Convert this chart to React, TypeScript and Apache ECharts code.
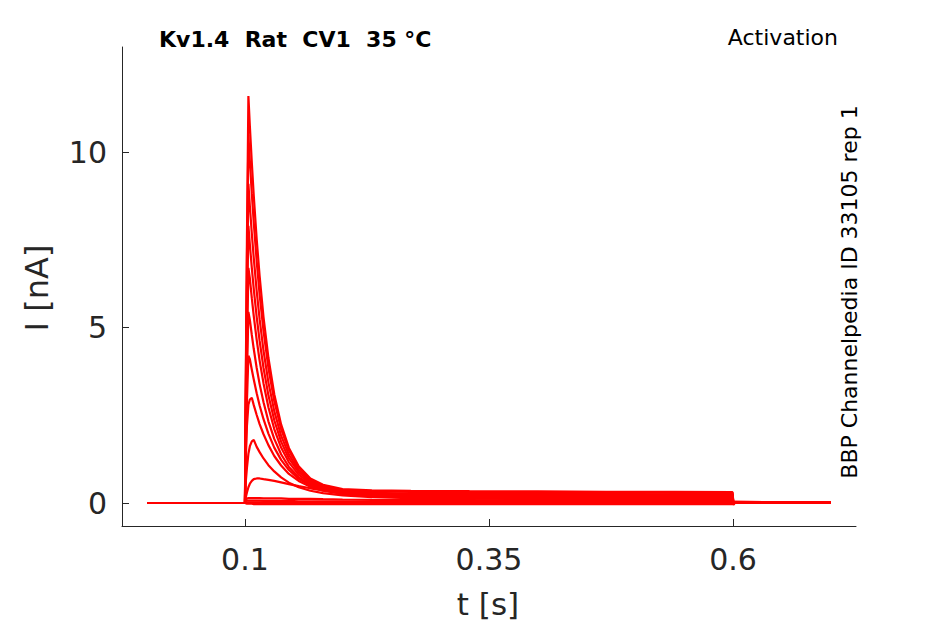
import React, { useEffect, useRef } from "react";
import * as echarts from "echarts";

// time points [s]
const T = [0, 0.1, 0.1005, 0.102, 0.1035, 0.105, 0.107, 0.109, 0.112, 0.115, 0.119, 0.124, 0.13, 0.137, 0.145, 0.155, 0.167, 0.18, 0.2, 0.23, 0.27, 0.33, 0.4, 0.47, 0.54, 0.5995, 0.6005, 0.602, 0.65, 0.7];

// current traces [nA], one per voltage step
const traceA = [0, 0, 2.5, 7.5, 11.6, 10.74, 9.7, 8.76, 7.52, 6.47, 5.29, 4.14, 3.1, 2.24, 1.57, 1.05, 0.7, 0.52, 0.4, 0.36, 0.35, 0.34, 0.33, 0.32, 0.32, 0.31, -0.05, 0.03, 0.02, 0.02];
const traceB = [0, 0, 2.3, 6.9, 10.5, 9.74, 8.82, 7.99, 6.89, 5.94, 4.9, 3.85, 2.91, 2.11, 1.5, 1.01, 0.67, 0.49, 0.37, 0.33, 0.32, 0.31, 0.3, 0.3, 0.29, 0.29, -0.04, 0.03, 0.02, 0.02];
const traceC = [0, 0, 2.0, 6.0, 9.1, 8.46, 7.68, 6.98, 6.04, 5.24, 4.34, 3.44, 2.62, 1.92, 1.38, 0.94, 0.64, 0.46, 0.34, 0.29, 0.27, 0.27, 0.26, 0.26, 0.25, 0.25, -0.04, 0.02, 0.02, 0.02];
const traceD = [0, 0, 1.8, 5.3, 7.9, 7.37, 6.7, 6.1, 5.3, 4.62, 3.85, 3.07, 2.36, 1.75, 1.27, 0.88, 0.6, 0.44, 0.33, 0.27, 0.25, 0.24, 0.23, 0.23, 0.22, 0.22, -0.03, 0.02, 0.02, 0.02];
const traceE = [0, 0, 1.5, 4.3, 6.7, 6.4, 5.84, 5.33, 4.65, 4.06, 3.41, 2.73, 2.11, 1.58, 1.16, 0.81, 0.56, 0.41, 0.31, 0.25, 0.22, 0.21, 0.2, 0.2, 0.2, 0.2, -0.03, 0.02, 0.02, 0.02];
const traceF = [0, 0, 1.3, 3.6, 5.45, 5.22, 4.79, 4.39, 3.85, 3.39, 2.87, 2.33, 1.83, 1.39, 1.03, 0.74, 0.52, 0.39, 0.29, 0.23, 0.2, 0.19, 0.18, 0.18, 0.18, 0.18, -0.03, 0.02, 0.02, 0.02];
const traceG = [0, 0, 1.1, 2.9, 4.2, 4.1, 3.8, 3.52, 3.13, 2.78, 2.39, 1.98, 1.58, 1.23, 0.94, 0.69, 0.5, 0.37, 0.27, 0.21, 0.18, 0.17, 0.16, 0.16, 0.16, 0.16, -0.02, 0.02, 0.02, 0.02];
const traceH = [0, 0, 1.0, 2.2, 2.8, 2.95, 3.0, 2.79, 2.51, 2.25, 1.96, 1.65, 1.34, 1.07, 0.83, 0.63, 0.46, 0.35, 0.26, 0.19, 0.16, 0.15, 0.14, 0.14, 0.14, 0.14, -0.02, 0.02, 0.02, 0.02];
const traceI = [0, 0, 0.5, 1.0, 1.4, 1.62, 1.76, 1.8, 1.6, 1.45, 1.27, 1.08, 0.9, 0.73, 0.58, 0.45, 0.35, 0.28, 0.22, 0.17, 0.14, 0.13, 0.12, 0.12, 0.12, 0.12, -0.02, 0.01, 0.01, 0.01];
const traceJ = [0, 0, 0.12, 0.3, 0.45, 0.55, 0.63, 0.68, 0.7, 0.7, 0.68, 0.66, 0.63, 0.59, 0.54, 0.48, 0.42, 0.36, 0.3, 0.23, 0.17, 0.13, 0.11, 0.1, 0.1, 0.1, -0.01, 0.01, 0.01, 0.01];
const traceK = [0, 0, 0.08, 0.13, 0.14, 0.14, 0.14, 0.14, 0.14, 0.14, 0.13, 0.13, 0.13, 0.13, 0.12, 0.12, 0.12, 0.11, 0.1, 0.09, 0.08, 0.08, 0.07, 0.07, 0.07, 0.07, 0.0, 0.01, 0.01, 0.01];
const traceL = [0, 0, 0.04, 0.07, 0.07, 0.07, 0.07, 0.07, 0.07, 0.07, 0.06, 0.06, 0.06, 0.06, 0.06, 0.05, 0.05, 0.05, 0.05, 0.04, 0.04, 0.04, 0.04, 0.04, 0.04, 0.04, 0.0, 0.01, 0.01, 0.01];
const traceM = [0, 0, 0.01, 0.02, 0.02, 0.02, 0.02, 0.02, 0.02, 0.02, 0.02, 0.01, 0.01, 0.01, 0.01, 0.01, 0.01, 0.01, 0.0, 0.0, 0.0, 0.0, 0.0, 0.0, 0.0, 0.0, -0.01, 0.0, 0.0, 0.0];
const traceN = [0, 0, -0.01, -0.02, -0.02, -0.02, -0.02, -0.03, -0.03, -0.03, -0.03, -0.03, -0.03, -0.03, -0.03, -0.03, -0.03, -0.03, -0.03, -0.03, -0.03, -0.03, -0.03, -0.03, -0.03, -0.03, -0.04, 0.0, 0.0, 0.0];

const traces = [traceA, traceB, traceC, traceD, traceE, traceF, traceG, traceH, traceI, traceJ, traceK, traceL, traceM, traceN];

const xTicks = [0.1, 0.35, 0.6];
const yTicks = [0, 5, 10];

const TITLE = "Kv1.4  Rat  CV1  35 °C";
const MODE = "Activation";
const SIDE = "BBP Channelpedia ID 33105 rep 1";
const X_NAME = "t [s]";
const Y_NAME = "I [nA]";

const FONT = "DejaVu Sans";
const INK = "#262626";

export default function App() {
  const ref = useRef<HTMLDivElement>(null);
  useEffect(() => {
    document.body.style.margin = "0";
    if (!ref.current) return;
    const chart = echarts.init(ref.current, undefined, { renderer: "svg" });
    const series = traces.map((tr, k) => ({
      type: "line",
      name: "trace" + k,
      data: T.map((t, i) => [t, tr[i]]),
      symbol: "none",
      lineStyle: { color: "#ff0000", width: 2.2 },
      itemStyle: { color: "#ff0000" },
      silent: true,
    }));
    chart.setOption({
      animation: false,
      grid: { left: 122, right: 89, top: 47, bottom: 98, containLabel: false, outerBoundsMode: "none" },
      xAxis: {
        type: "value",
        min: -0.026,
        max: 0.726,
        splitLine: { show: false },
        axisLine: { show: true, onZero: false, lineStyle: { color: INK, width: 1 } },
        axisTick: { show: true, inside: true, length: 7, customValues: xTicks, lineStyle: { color: INK } },
        axisLabel: {
          customValues: xTicks,
          fontFamily: FONT,
          fontSize: 30,
          color: INK,
          margin: 18,
          formatter: (v: number) => String(v),
        },
      },
      yAxis: {
        type: "value",
        min: -0.655,
        max: 13,
        splitLine: { show: false },
        axisLine: { show: true, onZero: false, lineStyle: { color: INK, width: 1 } },
        axisTick: { show: true, inside: true, length: 7, customValues: yTicks, lineStyle: { color: INK } },
        axisLabel: {
          customValues: yTicks,
          fontFamily: FONT,
          fontSize: 30,
          color: INK,
          margin: 15,
          formatter: (v: number) => String(v),
        },
      },
      graphic: [
        {
          type: "text",
          left: 159,
          top: 28,
          style: { text: TITLE, fontFamily: FONT, fontSize: 22, fontWeight: "bold", fill: "#000" },
        },
        {
          type: "text",
          right: 107,
          top: 26,
          style: { text: MODE, fontFamily: FONT, fontSize: 22, fill: "#000" },
        },
        {
          type: "text",
          x: 849,
          y: 292,
          rotation: Math.PI / 2,
          style: { text: SIDE, fontFamily: FONT, fontSize: 22, fill: "#000", align: "center", verticalAlign: "middle" },
        },
        {
          type: "text",
          x: 488,
          y: 604,
          style: { text: X_NAME, fontFamily: FONT, fontSize: 31, fill: INK, align: "center", verticalAlign: "middle" },
        },
        {
          type: "text",
          x: 37,
          y: 288,
          rotation: Math.PI / 2,
          style: { text: Y_NAME, fontFamily: FONT, fontSize: 32, fill: INK, align: "center", verticalAlign: "middle" },
        },
      ],
      series,
    });
    return () => chart.dispose();
  }, []);
  return <div ref={ref} style={{ width: 945, height: 624 }} />;
}
